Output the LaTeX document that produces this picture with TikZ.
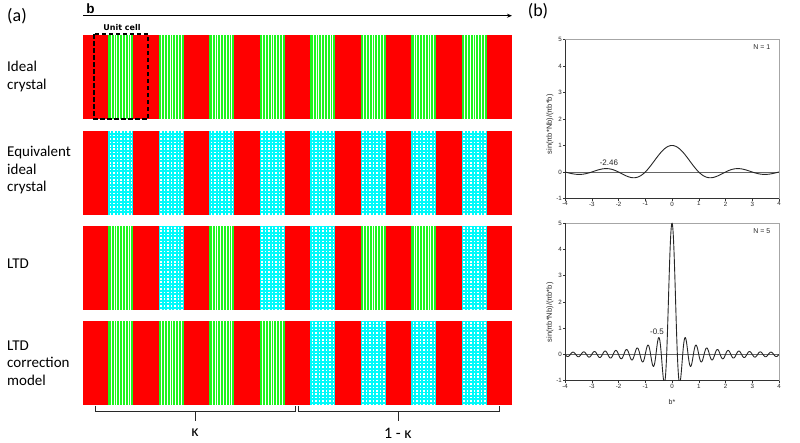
\documentclass[tikz,border=0pt]{standalone}
\usepackage{fontspec}
\setmainfont{Carlito}
\newfontfamily\arialf{Liberation Sans}
\newfontfamily\djvb{DejaVu Sans}
\usetikzlibrary{arrows.meta}
\definecolor{redb}{RGB}{255,0,0}
\definecolor{gcol}{RGB}{30,245,30}
\definecolor{ccol}{RGB}{0,250,250}
\definecolor{brc}{RGB}{40,40,40}
\newcommand{\mygband}[2]{%
  \fill[gcol] ({#1},{#2}) rectangle ++(25.24,84);
  \foreach \k in {1,...,8} \draw[white, line width=0.5pt] ({#1+2.8*\k},{#2}) -- ++(0,84);
}
\newcommand{\mycband}[2]{%
  \fill[ccol] ({#1},{#2}) rectangle ++(25.24,84);
  \foreach \k in {0,...,6} \draw[white, line width=1.4pt, dash pattern=on 1.6pt off 1.8pt, dash phase=-0.9pt] ({#1+2.3+3.5*\k},{#2}) -- ++(0,84);
}
\tikzset{
  rowlab/.style={anchor=west, align=left, font=\fontsize{15}{17.5}\selectfont, inner sep=0pt},
  panel/.style={font=\fontsize{18}{18}\selectfont, inner sep=0pt},
  bracel/.style={line width=0.9pt, brc},
  ticklab/.style={font=\arialf\fontsize{6.2}{6.5}\selectfont, inner sep=1pt, text=black!85},
  plotlab/.style={font=\arialf\fontsize{7.5}{8}\selectfont, inner sep=0pt, text=black!85},
  curve/.style={line width=0.9pt, black!85},
}
\begin{document}
\begin{tikzpicture}[x=1pt,y=-1pt]
\useasboundingbox (0,0) rectangle (800,442);
% panel labels
\node[panel] (pa) at (17,16) {(a)};
\node[panel] (pb) at (538,11) {(b)};
% b arrow
\coordinate (bs) at (83,15.7);
\coordinate (be) at (512,15.7);
\draw[line width=1.2pt, -{Stealth[length=5pt,width=4pt]}] (bs) -- (be);
\node[font=\arialf\bfseries\fontsize{13.5}{13.5}\selectfont, inner sep=0pt] (bl) at (90.5,9) {b};
% rows red background
\foreach \tp in {35,130.5,226,321} \fill[redb] (83,\tp) rectangle ++(429,84);
% row 1
\foreach \j in {1,3,...,15} {\mygband{83+25.24*\j}{35}}
% row 2
\foreach \j in {1,3,...,15} {\mycband{83+25.24*\j}{130.5}}
% row 3
\foreach \j in {1,5,11,13} {\mygband{83+25.24*\j}{226}}
\foreach \j in {3,7,9,15} {\mycband{83+25.24*\j}{226}}
% row 4
\foreach \j in {1,3,5,7} {\mygband{83+25.24*\j}{321}}
\foreach \j in {9,11,13,15} {\mycband{83+25.24*\j}{321}}
% unit cell
\draw[line width=1.6pt, dash pattern=on 4.5pt off 2.5pt] (94,34) rectangle (148,119);
\node[font=\djvb\bfseries\fontsize{8}{8}\selectfont, inner sep=0pt] (uc) at (122,27.5) {Unit cell};
% row labels
\node[rowlab] (r1) at (7,76.5) {Ideal\\crystal};
\node[rowlab] (r2) at (7,170) {Equivalent\\ideal\\crystal};
\node[rowlab] (r3) at (7,264) {LTD};
\node[rowlab] (r4) at (7,363) {LTD\\correction\\model};
% braces
\coordinate (k1) at (95,405.5);
\coordinate (k2) at (295,405.5);
\coordinate (k3) at (298,405.5);
\coordinate (k4) at (499,405.5);
\draw[bracel] (k1) -- ++(0,5.5) -| (k2);
\draw[bracel] (k3) -- ++(0,5.5) -| (k4);
\draw[bracel] (195,411) -- (195,421);
\draw[bracel] (398.5,411) -- (398.5,421);
\node[font=\fontsize{16}{16}\selectfont, inner sep=0pt] (kap) at (195,433) {κ};
\node[font=\fontsize{16}{16}\selectfont, inner sep=0pt] (omk) at (398,433) {1 - κ};
% plot 1
\begin{scope}[shift={(672,172)}, x=26.75pt, y=26.5pt]
  \draw[black!35, line width=0.5pt] (-4,5) -- (4,5) -- (4,-1);
  \draw[black!60, line width=0.7pt] (-4,0) -- (4,0);
  \draw[black!80, line width=0.6pt] (-4,5) -- (-4,-1) -- (4,-1);
  \foreach \y in {-1,...,5} {
    \draw[black!80, line width=0.5pt] (-4,\y) -- ++(-2pt,0);
    \node[ticklab, anchor=east] at ([xshift=-2pt]-4,\y) {\y};
  }
  \foreach \x in {-4,...,4} {
    \draw[black!80, line width=0.5pt] (\x,-1) -- ++(0,-2pt);
    \node[ticklab, anchor=north] at ([yshift=-2pt]\x,-1) {\x};
  }
  \draw[curve] plot[domain=-4:4, samples=301] (\x, {sin(180*\x)/(pi*\x)});
  \node[plotlab, rotate=90] (yl1) at (-4.56,1.8) {sin(πb*Nb)/(πb*b)};
  \node[plotlab, font=\arialf\fontsize{7}{7}\selectfont] (n1) at (3.36,4.72) {N = 1};
  \node[plotlab, font=\arialf\fontsize{8}{8}\selectfont] (a1) at (-2.36,0.34) {-2.46};
\end{scope}
% plot 2
\begin{scope}[shift={(672,354.4)}, x=26.75pt, y=26.23pt]
  \draw[black!35, line width=0.5pt] (-4,5) -- (4,5) -- (4,-1);
  \draw[black!60, line width=0.7pt] (-4,0) -- (4,0);
  \draw[black!80, line width=0.6pt] (-4,5) -- (-4,-1) -- (4,-1);
  \foreach \y in {-1,...,5} {
    \draw[black!80, line width=0.5pt] (-4,\y) -- ++(-2pt,0);
    \node[ticklab, anchor=east] at ([xshift=-2pt]-4,\y) {\y};
  }
  \foreach \x in {-4,...,4} {
    \draw[black!80, line width=0.5pt] (\x,-1) -- ++(0,-2pt);
    \node[ticklab, anchor=north] at ([yshift=-2pt]\x,-1) {\x};
  }
  \begin{scope}
    \clip (-4,-1) rectangle (4,5.05);
    \draw[curve] plot[domain=-4:4, samples=900] (\x, {sin(900*\x)/(pi*\x)});
  \end{scope}
  \node[plotlab, rotate=90] (yl2) at (-4.56,1.6) {sin(πb*Nb)/(πb*b)};
  \node[plotlab, font=\arialf\fontsize{7}{7}\selectfont] (n5) at (3.36,4.7) {N = 5};
  \node[plotlab, font=\arialf\fontsize{8}{8}\selectfont] (a5) at (-0.56,0.85) {-0.5};
  \node[plotlab, font=\arialf\fontsize{7}{7}\selectfont] (bx) at (0,-1.81) {b*};
\end{scope}
\end{tikzpicture}
\end{document}
